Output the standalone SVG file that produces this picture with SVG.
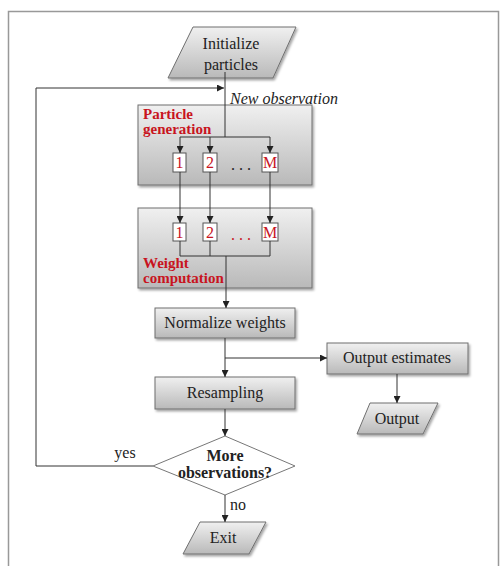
<svg xmlns="http://www.w3.org/2000/svg" width="501" height="566" viewBox="0 0 501 566">
<defs>
<linearGradient id="g" x1="0" y1="0" x2="0" y2="1">
<stop offset="0" stop-color="#f0f0f0"/>
<stop offset="1" stop-color="#b9b9b9"/>
</linearGradient>
<filter id="sh" x="-10%" y="-10%" width="130%" height="140%">
<feDropShadow dx="1.5" dy="2" stdDeviation="1.2" flood-color="#000" flood-opacity="0.35"/>
</filter>
<marker id="ah" viewBox="0 0 10 10" refX="10" refY="5" markerWidth="7" markerHeight="7" markerUnits="userSpaceOnUse" orient="auto">
<path d="M0,0 L10,5 L0,10 z" fill="#222"/>
</marker>
<style>
.shape{fill:url(#g);stroke:#6f6f6f;stroke-width:1;filter:url(#sh)}
.small{fill:#fff;stroke:#555;stroke-width:1}
.t{font-family:"Liberation Serif","Times New Roman",serif;font-size:16px;fill:#222;text-anchor:middle}
.r{font-family:"Liberation Serif","Times New Roman",serif;font-size:15px;fill:#c8141e;font-weight:bold}
.n{font-family:"Liberation Serif","Times New Roman",serif;font-size:16px;fill:#c8141e;text-anchor:middle}
.c{fill:none;stroke:#333;stroke-width:1}
.ca{fill:none;stroke:#333;stroke-width:1;marker-end:url(#ah)}
</style>
</defs>
<rect width="501" height="566" fill="#fff"/>
<path d="M8.5,566 V11.5 H498.5 V566" fill="none" stroke="#999" stroke-width="1.5"/>

<g id="init">
<polygon class="shape" points="193,27 296,27 273,78 168,78"/>
<text class="t" x="231" y="49">Initialize</text>
<text class="t" x="231" y="70">particles</text>
</g>
<g id="new-observation-label">
<text x="230" y="104" font-family="Liberation Serif,serif" font-style="italic" font-size="16" fill="#222">New observation</text>
</g>

<g id="particle-generation">
<rect class="shape" x="138" y="105" width="174" height="80"/>
<text class="r" x="143" y="119">Particle</text>
<text class="r" x="143" y="134">generation</text>
</g>
<g id="pg-1"><rect class="small" x="173" y="153" width="13" height="19"/><text class="n" x="179.5" y="168">1</text></g>
<g id="pg-2"><rect class="small" x="203" y="153" width="14" height="19"/><text class="n" x="210" y="168">2</text></g>
<g id="pg-dots"><text class="t" x="241" y="170" fill="#333">. . .</text></g>
<g id="pg-M"><rect class="small" x="262" y="153" width="16" height="19"/><text class="n" x="270" y="168">M</text></g>

<g id="weight-computation">
<rect class="shape" x="138" y="208" width="174" height="80"/>
<text class="r" x="143" y="268">Weight</text>
<text class="r" x="143" y="283">computation</text>
</g>
<g id="wc-1"><rect class="small" x="173" y="223" width="13" height="18"/><text class="n" x="179.5" y="238">1</text></g>
<g id="wc-2"><rect class="small" x="203" y="223" width="14" height="18"/><text class="n" x="210" y="238">2</text></g>
<g id="wc-dots"><text class="n" x="241" y="240">. . .</text></g>
<g id="wc-M"><rect class="small" x="262" y="223" width="16" height="18"/><text class="n" x="270" y="238">M</text></g>

<g id="normalize">
<rect class="shape" x="155" y="308" width="140" height="30"/>
<text class="t" x="225" y="328">Normalize weights</text>
</g>
<g id="output-estimates">
<rect class="shape" x="327" y="343" width="141" height="31"/>
<text class="t" x="397" y="363">Output estimates</text>
</g>
<g id="output">
<polygon class="shape" points="370,403 438,403 423,434 357,434"/>
<text class="t" x="397" y="424">Output</text>
</g>
<g id="resampling">
<rect class="shape" x="155" y="377" width="140" height="32"/>
<text class="t" x="225" y="398">Resampling</text>
</g>
<g id="decision">
<polygon points="225,436 295,466 225,495 153,466" fill="#fff" stroke="#777" stroke-width="1"/>
<text class="t" x="225" y="461" font-weight="bold" font-size="14">More</text>
<text class="t" x="225" y="478" font-weight="bold" font-size="14">observations?</text>
</g>
<g id="yes-label"><text class="t" x="125" y="458">yes</text></g>
<g id="no-label"><text class="t" x="238" y="510">no</text></g>
<g id="exit">
<polygon class="shape" points="200,522 266,522 249,554 183,554"/>
<text class="t" x="223" y="543">Exit</text>
</g>

<g id="connectors">
<path class="ca" d="M153,466 H36 V88 H224"/>
<path class="c" d="M225,72 V137"/>
<path class="c" d="M180,137 H270"/>
<path class="ca" d="M180,137 V153"/>
<path class="ca" d="M210,137 V153"/>
<path class="ca" d="M270,137 V153"/>
<path class="ca" d="M180,172 V223"/>
<path class="ca" d="M210,172 V223"/>
<path class="ca" d="M270,172 V223"/>
<path class="c" d="M180,241 V256 H270 V241"/>
<path class="c" d="M210,241 V256"/>
<path class="ca" d="M226,256 V308"/>
<path class="ca" d="M225,338 V377"/>
<path class="ca" d="M225,358 H327"/>
<path class="ca" d="M397,374 V403"/>
<path class="ca" d="M225,409 V436"/>
<path class="ca" d="M225,495 V522"/>
</g>
</svg>
